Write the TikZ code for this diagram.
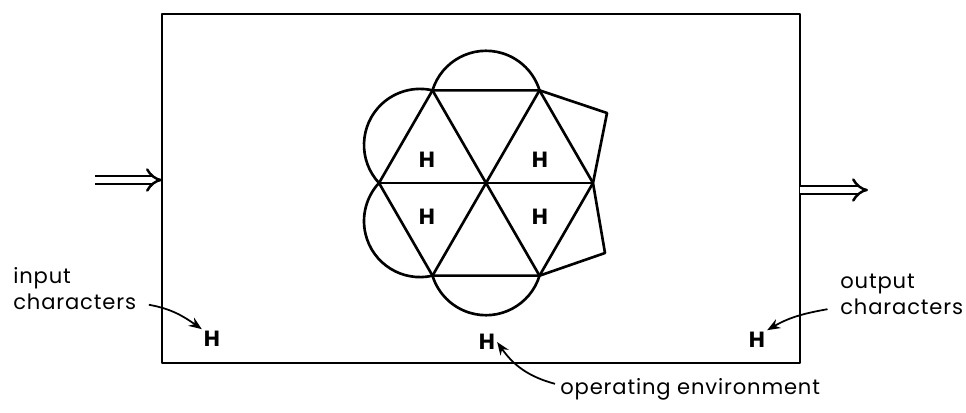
\documentclass[tikz,border=0pt]{standalone}
\usepackage{fontspec}
\setmainfont{Poppins}[LetterSpace=4]
\usetikzlibrary{arrows.meta}
\tikzset{
    heavy/.style={line width=1.5pt, line join=round},
    hmark/.style={font=\fontsize{12.5}{14}\selectfont\bfseries, inner sep=1pt},
    labeltext/.style={font=\fontsize{12}{14.7}\selectfont, align=left, inner sep=0pt},
    pointer/.style={line width=1pt, -{Stealth[length=2.6mm,width=2mm]}},
    dblarrow/.style={double, double distance=1.1mm, line width=1.4pt, -{Implies[scale=1.3]}},
}
\begin{document}
\begin{tikzpicture}[x=0.2mm, y=-0.2mm]
    \useasboundingbox (0,0) rectangle (966,412);

    % the box
    \coordinate (boxNW) at (162,14);
    \coordinate (boxSE) at (800,363);
    \draw[heavy] (boxNW) rectangle (boxSE);

    % hexagon of six triangles
    \coordinate (hc) at (486,183);
    \foreach \a/\n in {0/v0,60/v1,120/v2,180/v3,240/v4,300/v5}
        \path (hc) ++(\a:107) coordinate (\n);
    \draw[heavy] (v0) -- (v1) -- (v2) -- (v3) -- (v4) -- (v5) -- cycle;
    \foreach \n/\m in {v0/v3,v1/v4,v2/v5} \draw[heavy] (\n) -- (\m);

    % rounded caps on four sides
    \foreach \f in {270,210,150,90}
        \draw[heavy] (hc) ++(\f:76.2) ++(\f-72.9:56) arc[start angle=\f-72.9, delta angle=145.8, radius=56];

    % square caps on the right
    \coordinate (capA) at (607,113);
    \coordinate (capB) at (605,253);
    \draw[heavy] (v5) -- (capA) -- (v0) -- (capB) -- (v1);

    % characters in the triangles
    \node[hmark] (h1) at (427,160) {H};
    \node[hmark] (h2) at (540,160) {H};
    \node[hmark] (h3) at (427,217) {H};
    \node[hmark] (h4) at (540,217) {H};

    % input and output
    \coordinate (insrc) at (95,180);
    \draw[dblarrow] (insrc) -- (insrc -| boxNW);
    \coordinate (outtip) at (868,190);
    \draw[dblarrow] (outtip -| boxSE) -- (outtip);

    \node[hmark] (inH) at (212,339) {H};
    \node[hmark] (envH) at (487,342) {H};
    \node[hmark] (outH) at (757,340) {H};

    \node[labeltext, anchor=north west] (inlabel) at (13,267) {input\\characters};
    \node[labeltext, anchor=north west] (outlabel) at (840,274) {output\\characters};
    \node[labeltext, anchor=base west] (envlabel) at (560,394) {operating environment};

    \draw[pointer] ([xshift=2.5mm, yshift=1mm]inlabel.south east) to[out=-10, in=145] (inH.north west);
    \draw[pointer] ([xshift=-2.5mm, yshift=1.2mm]outlabel.south west) to[out=190, in=30] (outH.north east);
    \draw[pointer] ([xshift=-1mm, yshift=1mm]envlabel.west) to[out=165, in=-55] (envH.east);
\end{tikzpicture}
\end{document}
